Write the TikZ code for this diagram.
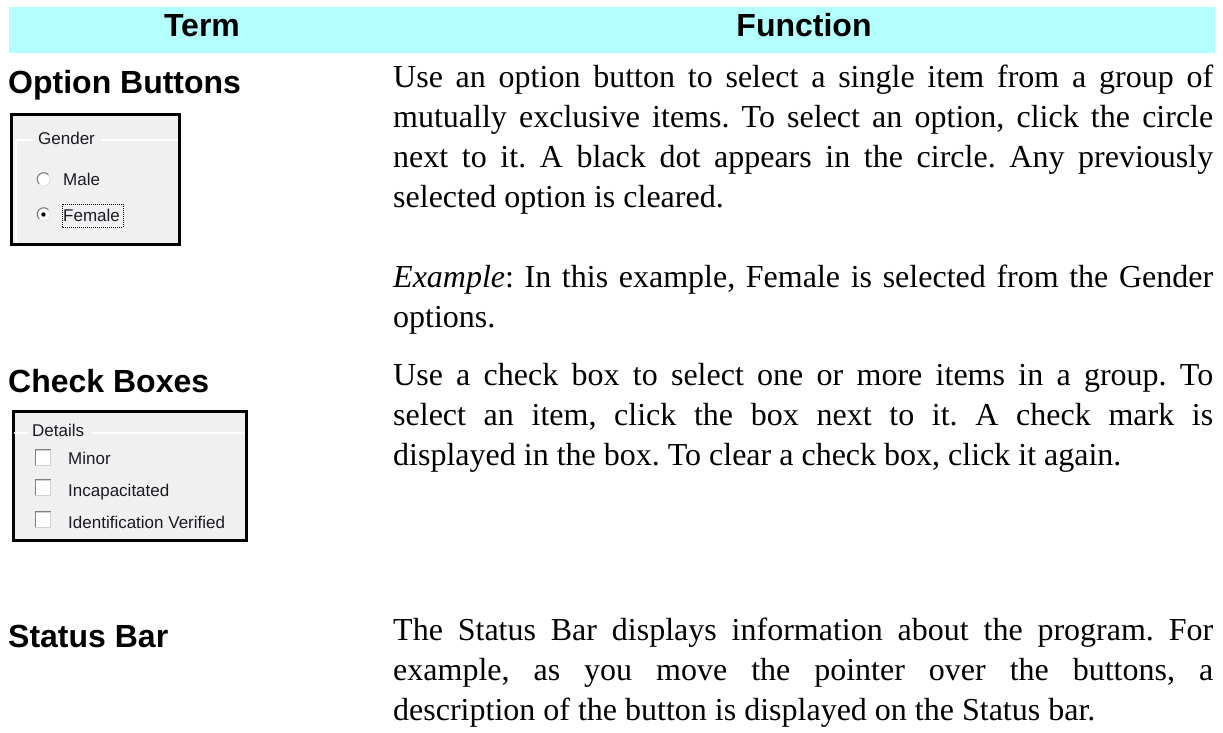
\documentclass[tikz,border=0pt]{standalone}
\usepackage{fontspec}
\setmainfont{Liberation Serif}
\setsansfont{Liberation Sans}
\definecolor{hdr}{HTML}{B3FFFF}
\definecolor{win}{HTML}{F0F0F0}
\definecolor{uitext}{HTML}{1A1A24}
\frenchspacing
\newcommand{\jline}[1]{\makebox[820pt][s]{#1}}
\tikzset{
  body/.style={anchor=base west, inner sep=0pt, font=\fontsize{32}{40}\selectfont},
  head/.style={anchor=base west, inner sep=0pt, font=\sffamily\bfseries\fontsize{32}{38}\selectfont},
  colhead/.style={anchor=base, inner sep=0pt, font=\sffamily\bfseries\fontsize{32}{38}\selectfont},
  ui/.style={anchor=base west, inner sep=0pt, font=\sffamily\fontsize{17}{20}\selectfont, text=uitext},
  uiframe/.style={draw=black, line width=3pt, fill=win},
  etch/.style={draw=white, line width=1.3pt},
  radio/.style={circle, minimum size=13pt, inner sep=0pt, fill=white, draw=black!12, line width=0.8pt},
  cbox/.style={minimum size=15pt, inner sep=0pt, fill=white, draw=black!18, line width=0.8pt},
}
\begin{document}
\begin{tikzpicture}[x=1pt,y=-1pt]
\useasboundingbox (0,0) rectangle (1223,732);
% header band
\fill[hdr] (9,7) rectangle (1215,53);
\node[colhead] (hterm) at (202,36) {Term};
\node[colhead] (hfunc) at (804,36) {Function};

% ---------- Option Buttons ----------
\node[head] (optH) at (8,93) {Option Buttons};
\draw[uiframe] (11.5,114.5) rectangle (179.5,244.5);
\draw[etch] (16,140) -- (33,140) (101,140) -- (178,140);
\draw[etch] (16,140) -- (16,242);
\node[ui] (gender) at (38,144) {Gender};
\node[radio] (rMale) at (43.5,179.5) {};
\draw[black!55, line width=1pt] (rMale.45) arc[start angle=45, end angle=225, radius=6.5pt];
\node[ui] (male) at (63,185) {Male};
\node[radio] (rFemale) at (43.5,214.5) {};
\draw[black!55, line width=1pt] (rFemale.45) arc[start angle=45, end angle=225, radius=6.5pt];
\fill[black] (rFemale.center) circle[radius=2.2pt];
\node[ui] (female) at (63,221) {Female};
\draw[black, line width=0.8pt, dash pattern=on 1pt off 1pt] (62,204) rectangle (123,227);

\node[body] (o1) at (393,87) {\jline{Use an option button to select a single item from a group of}};
\node[body] (o2) at (393,127) {\jline{mutually exclusive items. To select an option, click the circle}};
\node[body] (o3) at (393,167) {\jline{next to it. A black dot appears in the circle. Any previously}};
\node[body] (o4) at (393,207) {selected option is cleared.};
\node[body] (o5) at (393,287) {\jline{\textit{Example}: In this example, Female is selected from the Gender}};
\node[body] (o6) at (393,327) {options.};

% ---------- Check Boxes ----------
\node[head] (chkH) at (8,392) {Check Boxes};
\draw[uiframe] (13.5,411.5) rectangle (246.5,540.5);
\draw[etch] (14,433) -- (28,433) (92,433) -- (245,433);
\node[ui] (details) at (32,436) {Details};
\node[cbox] (cb1) at (43,457.5) {};
\draw[black!50, line width=1pt] (cb1.south west) -- (cb1.north west) -- (cb1.north east);
\node[ui] (minor) at (68,464) {Minor};
\node[cbox] (cb2) at (43,487.5) {};
\draw[black!50, line width=1pt] (cb2.south west) -- (cb2.north west) -- (cb2.north east);
\node[ui] (incap) at (68,496) {Incapacitated};
\node[cbox] (cb3) at (43,519.5) {};
\draw[black!50, line width=1pt] (cb3.south west) -- (cb3.north west) -- (cb3.north east);
\node[ui] (ident) at (68,528) {Identification Verified};

\node[body] (c1) at (393,385) {\jline{Use a check box to select one or more items in a group. To}};
\node[body] (c2) at (393,425) {\jline{select an item, click the box next to it. A check mark is}};
\node[body] (c3) at (393,465) {displayed in the box. To clear a check box, click it again.};

% ---------- Status Bar ----------
\node[head] (stH) at (8,647) {Status Bar};
\node[body] (s1) at (393,640) {\jline{The Status Bar displays information about the program. For}};
\node[body] (s2) at (393,680) {\jline{example, as you move the pointer over the buttons, a}};
\node[body] (s3) at (393,720) {description of the button is displayed on the Status bar.};
\end{tikzpicture}
\end{document}
